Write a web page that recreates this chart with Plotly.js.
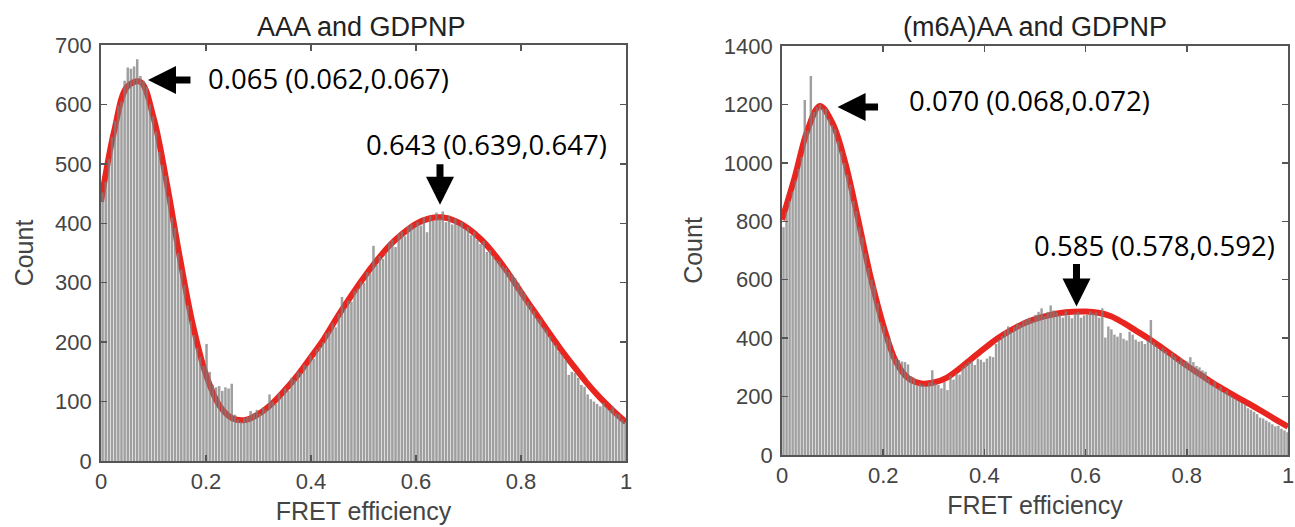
<!DOCTYPE html>
<html>
<head>
<meta charset="utf-8">
<script src="https://cdn.plot.ly/plotly-3.0.1.min.js"></script>
<style>html,body{margin:0;padding:0;background:#fff}#chart{width:1295px;height:527px}</style>
</head>
<body>
<div id="chart"></div>
<script>
// ---------- data ----------
const binStart = 0.003;   // centre of first histogram bin
const binWidth = 0.006;   // histogram bin width

const leftTitle = "AAA and GDPNP";
const rightTitle = "(m6A)AA and GDPNP";

const leftCounts = [
452,470,508,545,572,598,605,640,662,660,
664,676,648,640,630,600,580,555,520,498,
480,445,410,392,350,322,296,262,236,212,
190,175,160,197,150,128,124,126,118,124,
122,130,78,70,66,72,74,84,80,86,
80,90,86,112,100,96,114,108,122,118,
140,136,150,148,162,160,178,172,188,192,
200,215,218,232,225,248,276,256,270,268,
286,290,302,300,318,316,362,330,345,340,
350,368,372,360,382,386,378,395,398,392,
402,396,410,385,412,404,418,408,420,402,
412,398,408,396,402,390,394,380,386,372,
365,370,352,355,345,338,336,328,325,318,
314,308,300,290,282,268,262,252,240,238,
225,220,210,200,195,184,178,170,145,150,
148,140,128,125,112,104,100,96,92,98,
90,86,92,80,78,70,66];

const rightCounts = [
780,830,870,900,940,980,1020,1215,1110,1297,
1175,1190,1200,1185,1185,1150,1130,1115,1075,1040,
1000,960,925,870,835,780,745,690,640,600,
580,520,455,440,405,398,350,330,325,320,
318,310,270,265,238,245,240,236,248,290,
245,240,228,250,222,272,258,280,275,300,
310,318,322,308,330,326,318,330,338,335,
380,395,408,425,440,422,438,450,445,460,
465,470,458,480,490,502,475,490,512,495,
488,480,470,492,478,468,485,490,470,478,
480,492,485,488,470,502,402,440,430,412,
405,418,398,392,422,412,395,388,390,380,
392,462,385,372,360,368,355,340,350,338,
322,330,318,320,335,318,305,300,290,285,
260,240,252,228,235,215,220,205,198,190,
185,178,172,160,155,148,140,128,125,118,
112,105,98,100,90,84,78];

const fitX = [0,0.025,0.05,0.075,0.1,0.125,0.15,0.175,0.2,0.225,0.25,0.275,0.3,0.325,0.35,0.375,0.4,0.425,0.45,0.475,0.5,0.525,0.55,0.575,0.6,0.625,0.65,0.675,0.7,0.725,0.75,0.775,0.8,0.825,0.85,0.875,0.9,0.925,0.95,0.975,1];
const leftFit = [436,555,630,638,578,469,343,229,145,94,72,69,79,96,119,145,175,206,242,276,308,337,363,383,399,408,410,404,391,372,347,317,284,252,220,189,160,132,107,85,65];
const rightFit = [805,950,1110,1195,1135,1000,810,610,445,320,262,245,248,264,295,330,365,398,425,448,465,477,486,490,491,487,475,452,425,398,368,337,306,277,248,222,197,173,148,122,97];

const xTicks = [0,0.2,0.4,0.6,0.8,1];
const leftYTicks = [0,100,200,300,400,500,600,700];
const rightYTicks = [0,200,400,600,800,1000,1200,1400];

const leftPeakLabels = ["0.065 (0.062,0.067)", "0.643 (0.639,0.647)"];
const rightPeakLabels = ["0.070 (0.068,0.072)", "0.585 (0.578,0.592)"];
const leftPeaks = [[0.0895, 641], [0.6457, 431]];
const rightPeaks = [[0.1098, 1191], [0.582, 508]];

// ---------- styles ----------
const axisColor = '#555555';
const tickFont = {family: 'Liberation Sans, Arial, sans-serif', size: 22, color: '#444444'};
const titleFont = {family: 'Liberation Sans, Arial, sans-serif', size: 25, color: '#444444'};
const barStyle = {color: '#7f7f7f', opacity: 0.75, line: {width: 0}};
const fitStyle = {color: '#e8251e', width: 6, shape: 'spline'};

const traces = [
  {type: 'scatter', mode: 'lines', x: fitX, y: leftFit, line: fitStyle, xaxis: 'x', yaxis: 'y', hoverinfo: 'skip'},
  {type: 'bar', x0: binStart, dx: binWidth, y: leftCounts, marker: {color: barStyle.color, line: barStyle.line}, opacity: barStyle.opacity, xaxis: 'x', yaxis: 'y3'},
  {type: 'scatter', mode: 'lines', x: fitX, y: rightFit, line: fitStyle, xaxis: 'x2', yaxis: 'y2', hoverinfo: 'skip'},
  {type: 'bar', x0: binStart, dx: binWidth, y: rightCounts, marker: {color: barStyle.color, line: barStyle.line}, opacity: barStyle.opacity, xaxis: 'x2', yaxis: 'y4'}
];

function xAxis(domain, anchor) {
  return {
    domain: domain, anchor: anchor, range: [0, 1], tickvals: xTicks,
    ticks: 'inside', ticklen: 6, tickwidth: 1.5, tickcolor: axisColor,
    showline: true, linecolor: axisColor, linewidth: 1.8, mirror: 'ticks',
    showgrid: false, zeroline: false, tickfont: tickFont, ticklabelstandoff: 0,
    ticklabeloverflow: 'allow', automargin: false,
    title: {text: 'FRET efficiency', font: titleFont, standoff: 9}
  };
}
function yAxis(domain, anchor, range, ticks) {
  return {
    domain: domain, anchor: anchor, range: range, tickvals: ticks,
    ticks: 'inside', ticklen: 6, tickwidth: 1.5, tickcolor: axisColor,
    showline: true, linecolor: axisColor, linewidth: 1.8, mirror: 'ticks',
    showgrid: false, zeroline: false, tickfont: tickFont, ticklabelstandoff: 3,
    ticklabeloverflow: 'allow', automargin: false,
    title: {text: 'Count', font: titleFont, standoff: 14}
  };
}

const leftXDom = [101/1295, 626/1295];
const leftYDom = [1 - 461/527, 1 - 45/527];
const rightXDom = [782/1295, 1288/1295];
const rightYDom = [1 - 455/527, 1 - 46/527];

const annFont = {family: 'Open Sans, Noto Sans, sans-serif', size: 27.5, color: '#000000'};
function arrow(xa, ya, pt, ax, ay) {
  return {xref: xa, yref: ya, x: pt[0], y: pt[1], ax: ax, ay: ay, text: '', showarrow: true,
          arrowhead: 2, arrowsize: 0.8, arrowwidth: 7, arrowcolor: '#000000', standoff: 0};
}
function label(xa, ya, x, y, text) {
  return {xref: xa, yref: ya, x: x, y: y, text: text, showarrow: false, font: annFont,
          xanchor: 'center', yanchor: 'middle'};
}

const layout = {
  width: 1295, height: 527,
  margin: {l: 0, r: 0, t: 0, b: 0},
  paper_bgcolor: '#ffffff', plot_bgcolor: '#ffffff',
  showlegend: false, bargap: 0.2,
  xaxis: xAxis(leftXDom, 'y'),
  yaxis: yAxis(leftYDom, 'x', [0, 700], leftYTicks),
  yaxis3: {overlaying: 'y', anchor: 'x', range: [0, 700], visible: false},
  xaxis2: xAxis(rightXDom, 'y2'),
  yaxis2: yAxis(rightYDom, 'x2', [0, 1400], rightYTicks),
  yaxis4: {overlaying: 'y2', anchor: 'x2', range: [0, 1400], visible: false},
  annotations: [
    {xref: 'paper', yref: 'paper', x: 361.5/1295, y: 1 - 27/527, text: leftTitle, showarrow: false,
     font: {family: 'Liberation Sans, Arial, sans-serif', size: 27, color: '#222222'}, xanchor: 'center', yanchor: 'middle'},
    {xref: 'paper', yref: 'paper', x: 1035/1295, y: 1 - 27/527, text: rightTitle, showarrow: false,
     font: {family: 'Liberation Sans, Arial, sans-serif', size: 27, color: '#222222'}, xanchor: 'center', yanchor: 'middle'},
    arrow('x', 'y', leftPeaks[0], 44, 0),
    arrow('x', 'y', leftPeaks[1], 0, -42),
    arrow('x2', 'y2', rightPeaks[0], 42, 0),
    arrow('x2', 'y2', rightPeaks[1], 0, -44),
    label('x', 'y', 0.4333, 644, leftPeakLabels[0]),
    label('x', 'y', 0.734, 532, leftPeakLabels[1]),
    label('x2', 'y2', 0.489, 1215, rightPeakLabels[0]),
    label('x2', 'y2', 0.737, 716, rightPeakLabels[1])
  ]
};

Plotly.newPlot('chart', traces, layout, {displayModeBar: false, staticPlot: true});
</script>
</body>
</html>
